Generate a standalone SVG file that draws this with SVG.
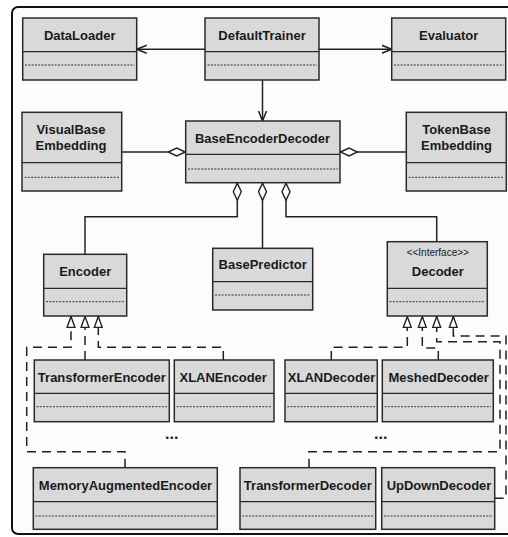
<svg xmlns="http://www.w3.org/2000/svg" width="508" height="537" viewBox="0 0 508 537">
<style>
.box{fill:#d9d9d9;stroke:#2a2a2a;stroke-width:1.5}
.div{stroke:#2a2a2a;stroke-width:1.3}
.dl{stroke:#333;stroke-width:1;stroke-dasharray:2 1.3}
.t{font-family:"Liberation Sans",Arial,sans-serif;font-weight:bold;font-size:13px;fill:#1a1a1a;text-anchor:middle}
.e{font-family:"Liberation Sans",Arial,sans-serif;font-weight:bold;font-size:16px;fill:#1a1a1a;text-anchor:middle}
.s{font-family:"Liberation Sans",Arial,sans-serif;font-size:10px;fill:#1a1a1a;text-anchor:middle}
.c{fill:none;stroke:#222;stroke-width:1.5}
.d{fill:none;stroke:#222;stroke-width:1.5;stroke-dasharray:9 6}
</style>
<defs>
<marker id="arrow" viewBox="0 0 10 10" refX="10" refY="5" markerWidth="10" markerHeight="10" orient="auto" markerUnits="userSpaceOnUse"><path d="M0,1 L10,5 L0,9" fill="none" stroke="#222" stroke-width="1.5"/></marker>
<marker id="diamond" viewBox="0 0 18 10" refX="0" refY="5" markerWidth="18" markerHeight="10" orient="auto" markerUnits="userSpaceOnUse"><path d="M0.5,5 L9,1 L17.5,5 L9,9 Z" fill="#fff" stroke="#222" stroke-width="1.4" stroke-dasharray="none"/></marker>
<marker id="tri" viewBox="0 0 12 10" refX="12" refY="5" markerWidth="12" markerHeight="10" orient="auto" markerUnits="userSpaceOnUse"><path d="M0.5,1 L11.5,5 L0.5,9 Z" fill="#fff" stroke="#222" stroke-width="1.4" stroke-dasharray="none"/></marker>
</defs>
<rect x="0" y="0" width="508" height="537" fill="#fff"/>
<rect x="12" y="7" width="520" height="527" rx="6" fill="#fcfcfc" stroke="#111" stroke-width="2"/>
<g id="connectors">
<path class="c" d="M205,49.3 L136.7,49.3" marker-end="url(#arrow)"/>
<path class="c" d="M319,49.3 L391.7,49.3" marker-end="url(#arrow)"/>
<path class="c" d="M262.5,80 L262.5,121" marker-end="url(#arrow)"/>
<path class="c" d="M185.7,152 L121.7,152" marker-start="url(#diamond)"/>
<path class="c" d="M340,152 L406.3,152" marker-start="url(#diamond)"/>
<path class="c" d="M237.3,182.7 L237.3,216.7 L85,216.7 L85,254.3" marker-start="url(#diamond)"/>
<path class="c" d="M262.5,182.7 L262.5,248.3" marker-start="url(#diamond)"/>
<path class="c" d="M286,182.7 L286,216.7 L436.7,216.7 L436.7,241.7" marker-start="url(#diamond)"/>
<path class="d" d="M85,360 L85,316" marker-end="url(#tri)"/>
<path class="d" d="M125,467.7 L125,451.7 L26.7,451.7 L26.7,347.3 L71,347.3 L71,316" marker-end="url(#tri)"/>
<path class="d" d="M223.3,360 L223.3,347.3 L98.3,347.3 L98.3,316" marker-end="url(#tri)"/>
<path class="d" d="M331.3,360 L331.3,347.3 L407.3,347.3 L407.3,316" marker-end="url(#tri)"/>
<path class="d" d="M438.3,360 L438.3,348 L422.3,348 L422.3,316" marker-end="url(#tri)"/>
<path class="d" d="M309,467.7 L309,451.7 L500,451.7 L500,341.7 L436.7,341.7 L436.7,316" marker-end="url(#tri)"/>
<path class="d" d="M494.7,498.3 L506,498.3 L506,336 L453.3,336 L453.3,316" marker-end="url(#tri)"/>
</g>
<g id="DataLoader"><rect class="box" x="22.7" y="18" width="114" height="62"/><line class="div" x1="22.7" y1="51.7" x2="136.7" y2="51.7"/><line class="dl" x1="25" y1="65" x2="134.5" y2="65"/><text class="t" x="79.7" y="39.5">DataLoader</text></g>
<g id="DefaultTrainer"><rect class="box" x="205" y="18" width="114" height="62"/><line class="div" x1="205" y1="51.7" x2="319" y2="51.7"/><line class="dl" x1="207.5" y1="65" x2="317" y2="65"/><text class="t" x="262" y="39.5">DefaultTrainer</text></g>
<g id="Evaluator"><rect class="box" x="391.7" y="18" width="114" height="62"/><line class="div" x1="391.7" y1="51.7" x2="505.7" y2="51.7"/><line class="dl" x1="394" y1="65" x2="503.5" y2="65"/><text class="t" x="448.7" y="39.5">Evaluator</text></g>
<g id="VisualBaseEmbedding"><rect class="box" x="22" y="112.3" width="99.7" height="78.7"/><line class="div" x1="22" y1="162.7" x2="121.7" y2="162.7"/><line class="dl" x1="24.5" y1="177.3" x2="119.5" y2="177.3"/><text class="t" x="71" y="134">VisualBase</text><text class="t" x="71" y="150">Embedding</text></g>
<g id="BaseEncoderDecoder"><rect class="box" x="185.7" y="121" width="154.3" height="61.7"/><line class="div" x1="185.7" y1="154.3" x2="340" y2="154.3"/><line class="dl" x1="188" y1="169" x2="338" y2="169"/><text class="t" x="262.5" y="142.7">BaseEncoderDecoder</text></g>
<g id="TokenBaseEmbedding"><rect class="box" x="406.3" y="112.3" width="100" height="78.7"/><line class="div" x1="406.3" y1="162.7" x2="506.3" y2="162.7"/><line class="dl" x1="408.5" y1="177.3" x2="504" y2="177.3"/><text class="t" x="456.5" y="134">TokenBase</text><text class="t" x="456.5" y="150">Embedding</text></g>
<g id="Encoder"><rect class="box" x="43.7" y="254.3" width="83" height="61.7"/><line class="div" x1="43.7" y1="288.3" x2="126.7" y2="288.3"/><line class="dl" x1="46" y1="301.7" x2="124.5" y2="301.7"/><text class="t" x="85.2" y="275.7">Encoder</text></g>
<g id="BasePredictor"><rect class="box" x="212.7" y="248.3" width="100" height="61.7"/><line class="div" x1="212.7" y1="281.7" x2="312.7" y2="281.7"/><line class="dl" x1="215" y1="295" x2="310.5" y2="295"/><text class="t" x="262.7" y="269.3">BasePredictor</text></g>
<g id="Decoder"><rect class="box" x="387.3" y="241.7" width="100" height="74.3"/><line class="div" x1="387.3" y1="288.3" x2="487.3" y2="288.3"/><line class="dl" x1="389.5" y1="301.7" x2="485" y2="301.7"/><text class="s" x="437.8" y="255.7">&lt;&lt;Interface&gt;&gt;</text><text class="t" x="437.8" y="275.7">Decoder</text></g>
<g id="TransformerEncoder"><rect class="box" x="34.3" y="360" width="135" height="61.7"/><line class="div" x1="34.3" y1="393.3" x2="169.3" y2="393.3"/><line class="dl" x1="36.5" y1="406.7" x2="167" y2="406.7"/><text class="t" x="101.8" y="381.5">TransformerEncoder</text></g>
<g id="XLANEncoder"><rect class="box" x="174.3" y="360" width="99.7" height="61.7"/><line class="div" x1="174.3" y1="393.3" x2="274" y2="393.3"/><line class="dl" x1="176.5" y1="406.7" x2="271.8" y2="406.7"/><text class="t" x="223.2" y="381.5">XLANEncoder</text></g>
<g id="XLANDecoder"><rect class="box" x="285" y="360" width="92.3" height="61.7"/><line class="div" x1="285" y1="393.3" x2="377.3" y2="393.3"/><line class="dl" x1="287.3" y1="406.7" x2="375" y2="406.7"/><text class="t" x="331.5" y="381.5">XLANDecoder</text></g>
<g id="MeshedDecoder"><rect class="box" x="382.3" y="360" width="111" height="61.7"/><line class="div" x1="382.3" y1="393.3" x2="493.3" y2="393.3"/><line class="dl" x1="384.5" y1="406.7" x2="491" y2="406.7"/><text class="t" x="438.7" y="381.5">MeshedDecoder</text></g>
<g id="MemoryAugmentedEncoder"><rect class="box" x="33.3" y="467.7" width="184" height="61.6"/><line class="div" x1="33.3" y1="501.7" x2="217.3" y2="501.7"/><line class="dl" x1="35.5" y1="516" x2="215" y2="516"/><text class="t" x="125.5" y="490">MemoryAugmentedEncoder</text></g>
<g id="TransformerDecoder"><rect class="box" x="240" y="467.7" width="135.7" height="61.6"/><line class="div" x1="240" y1="501.7" x2="375.7" y2="501.7"/><line class="dl" x1="242.3" y1="516" x2="373.5" y2="516"/><text class="t" x="307.8" y="490">TransformerDecoder</text></g>
<g id="UpDownDecoder"><rect class="box" x="381.7" y="467.7" width="113" height="61.6"/><line class="div" x1="381.7" y1="501.7" x2="494.7" y2="501.7"/><line class="dl" x1="384" y1="516" x2="492.5" y2="516"/><text class="t" x="439" y="490">UpDownDecoder</text></g>
<text class="e" x="171.7" y="439">...</text>
<text class="e" x="380.7" y="439">...</text>
</svg>
